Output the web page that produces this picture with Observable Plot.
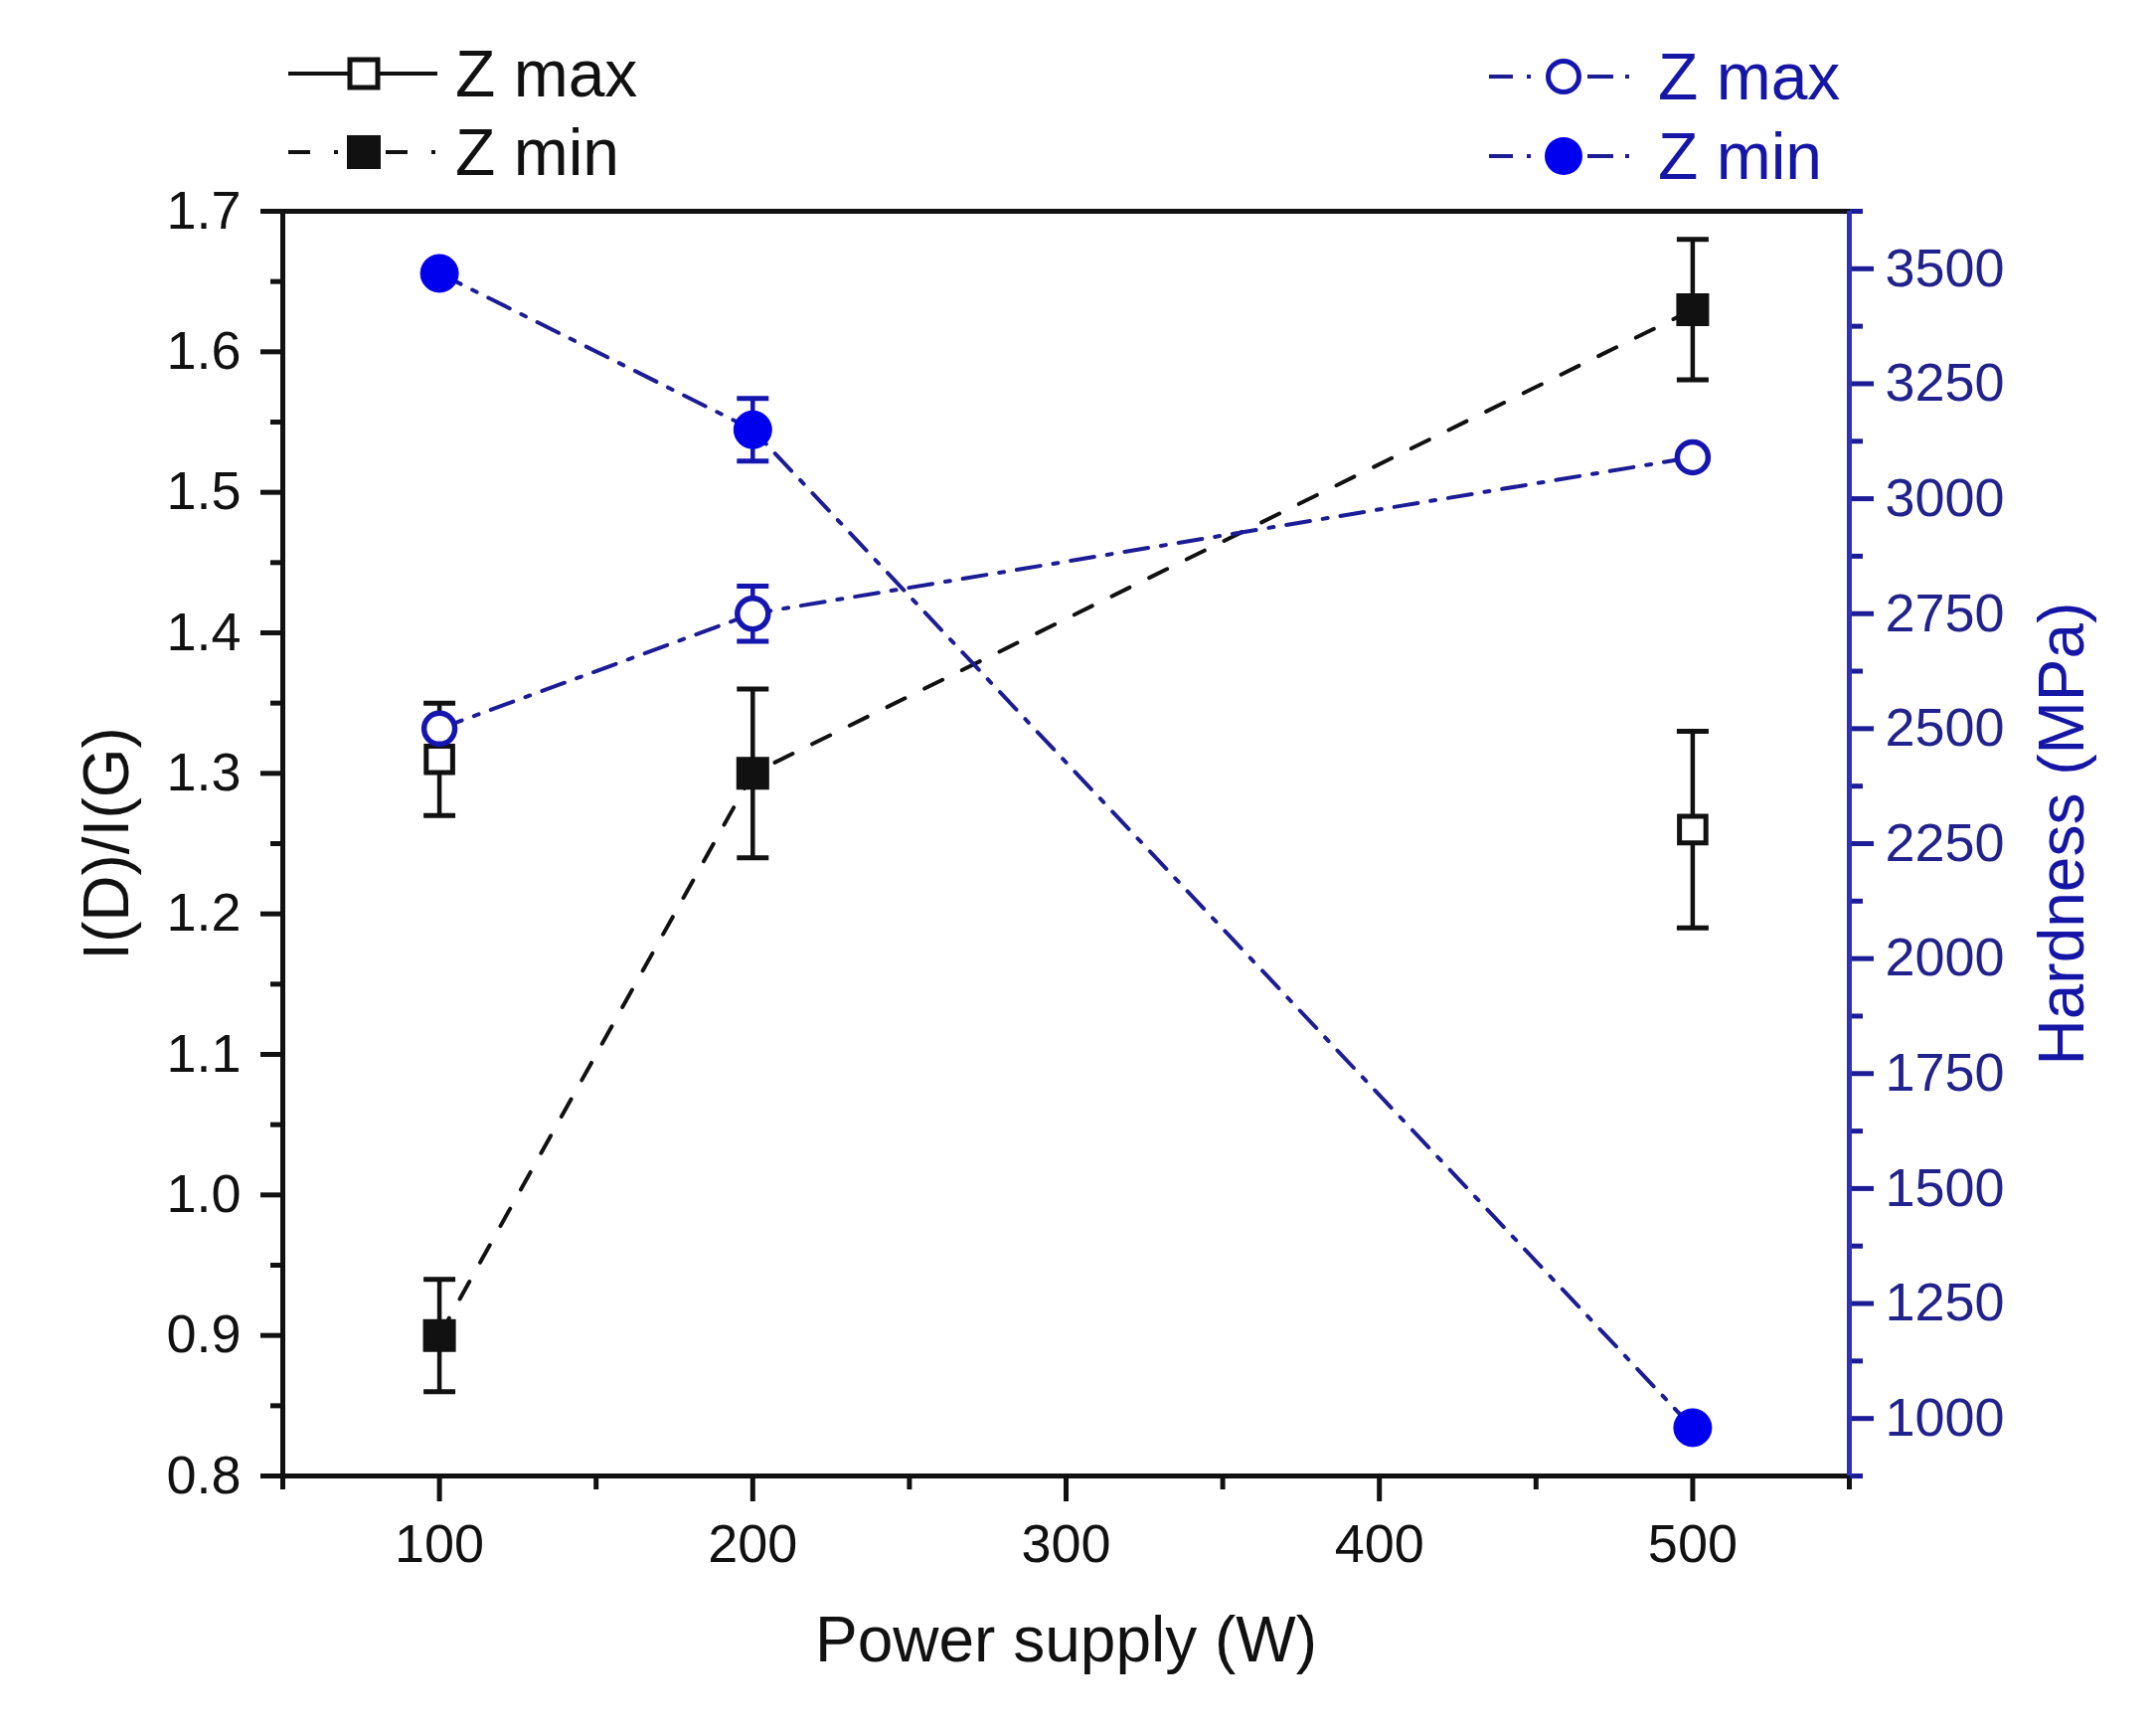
<!DOCTYPE html>
<html><head><meta charset="utf-8">
<script src="https://cdn.jsdelivr.net/npm/d3@7"></script>
<script src="https://cdn.jsdelivr.net/npm/@observablehq/plot@0.6"></script>
<style>
html,body{margin:0;padding:0;background:#fff;overflow:hidden;}
#wrap{position:relative;width:2169px;height:1743px;background:#fff;font-family:"Liberation Sans",Arial,sans-serif;}
#wrap > svg, #wrap > figure{position:absolute;left:0;top:0;margin:0;}
</style></head>
<body><div id="wrap"></div>
<script>
// ---- data ----
const power = [100, 200, 500];
const zmaxPower = [100, 500];
const zmaxRatio = [1.31, 1.26];
const zmaxRatioErr = [0.04, 0.07];
const zminRatio = [0.90, 1.30, 1.63];
const zminRatioErr = [0.04, 0.06, 0.05];
const hardZmax = [2500, 2750, 3090];
const hardZmaxErr = [0, 60, 0];
const hardZmin = [3490, 3150, 980];
const hardZminErr = [0, 68, 0];
// ---- ticks ----
const xTicks = [100, 200, 300, 400, 500];
const xMinor = [50, 150, 250, 350, 450, 550];
const yTicks = [0.8, 0.9, 1.0, 1.1, 1.2, 1.3, 1.4, 1.5, 1.6, 1.7];
const yMinor = [0.85, 0.95, 1.05, 1.15, 1.25, 1.35, 1.45, 1.55, 1.65];
const hTicks = [1000, 1250, 1500, 1750, 2000, 2250, 2500, 2750, 3000, 3250, 3500];
const hMinor = [875, 1125, 1375, 1625, 1875, 2125, 2375, 2625, 2875, 3125, 3375, 3625];
const xDomain = [50, 550];
const yDomain = [0.8, 1.7];
const hDomain = [875, 3625];

const zmaxRows = zmaxPower.map((p, i) => ({p, v: zmaxRatio[i], e: zmaxRatioErr[i]}));
const zminRows = power.map((p, i) => ({p, v: zminRatio[i], e: zminRatioErr[i]}));
const hmaxRows = power.map((p, i) => ({p, v: hardZmax[i], e: hardZmaxErr[i]}));
const hminRows = power.map((p, i) => ({p, v: hardZmin[i], e: hardZminErr[i]}));

const FONT = "Liberation Sans, Arial, sans-serif";
const BLACK = "#111";
const NAVY = "#1c1c96";
const BLUE_TXT = "#1616a6";
const BLUE_AX = "#3030b8";
const BLUE_FILL = "#0000ee";
const BLUE_OPEN = "#1515b0";
const DASHDOT = "24,13,5,13";

const cap = {draw(ctx, size) { const h = Math.sqrt(size / Math.PI); ctx.moveTo(-h, 0); ctx.lineTo(h, 0); }};

const common = {
  width: 2169, height: 1743,
  marginTop: 212, marginBottom: 259, marginLeft: 284, marginRight: 309,
  style: {fontFamily: FONT, background: "transparent", overflow: "visible"}
};

const wrap = document.getElementById("wrap");

// ---- legend ----
const leg = d3.create("svg").attr("width", 2169).attr("height", 200)
  .style("position", "absolute").style("left", 0).style("top", 0);
function seg(g, x1, x2, y, color, dash) {
  const l = g.append("line").attr("x1", x1).attr("x2", x2).attr("y1", y).attr("y2", y)
    .attr("stroke", color).attr("stroke-width", 4);
  if (dash) l.attr("stroke-dasharray", dash);
}
// left legend
seg(leg, 290, 440, 74, BLACK);
leg.append("rect").attr("x", 352).attr("y", 60).attr("width", 28).attr("height", 28)
  .attr("fill", "#fff").attr("stroke", BLACK).attr("stroke-width", 5);
leg.append("text").attr("x", 458).attr("y", 74).attr("dy", "0.35em").attr("font-size", 66)
  .attr("font-family", FONT).attr("fill", BLACK).text("Z max");
seg(leg, 290, 348, 153, BLACK, "22,24,4,100");
seg(leg, 388, 442, 153, BLACK, "22,24,4,100");
leg.append("rect").attr("x", 349).attr("y", 136).attr("width", 34).attr("height", 34)
  .attr("fill", BLACK);
leg.append("text").attr("x", 458).attr("y", 153).attr("dy", "0.35em").attr("font-size", 66)
  .attr("font-family", FONT).attr("fill", BLACK).text("Z min");
// right legend
seg(leg, 1498, 1556, 77, NAVY, "24,14,4,100");
seg(leg, 1597, 1642, 77, NAVY, "26,12,4,100");
leg.append("circle").attr("cx", 1573).attr("cy", 77).attr("r", 15.5)
  .attr("fill", "#fff").attr("stroke", BLUE_OPEN).attr("stroke-width", 5);
leg.append("text").attr("x", 1668).attr("y", 77).attr("dy", "0.35em").attr("font-size", 66)
  .attr("font-family", FONT).attr("fill", BLUE_TXT).text("Z max");
seg(leg, 1498, 1556, 157, NAVY, "24,14,4,100");
seg(leg, 1597, 1642, 157, NAVY, "26,12,4,100");
leg.append("circle").attr("cx", 1573).attr("cy", 157).attr("r", 19).attr("fill", BLUE_FILL);
leg.append("text").attr("x", 1668).attr("y", 157).attr("dy", "0.35em").attr("font-size", 66)
  .attr("font-family", FONT).attr("fill", BLUE_TXT).text("Z min");
wrap.appendChild(leg.node());

// ---- left (I(D)/I(G)) plot ----
const p1 = Plot.plot({
  ...common,
  x: {domain: xDomain, axis: null},
  y: {domain: yDomain, axis: null},
  marks: [
    Plot.axisX({ticks: xTicks, tickSize: 26, tickPadding: 22, fontSize: 54, strokeWidth: 5,
      color: BLACK, label: null, tickFormat: d => String(d)}),
    Plot.axisX({ticks: xMinor, tickSize: 14, strokeWidth: 5, color: BLACK, label: null, tickFormat: () => ""}),
    Plot.axisY({ticks: yTicks, tickSize: 22, tickPadding: 20, fontSize: 54, strokeWidth: 5,
      color: BLACK, label: null, tickFormat: d => d.toFixed(1)}),
    Plot.axisY({ticks: yMinor, tickSize: 12, strokeWidth: 5, color: BLACK, label: null, tickFormat: () => ""}),
    Plot.frame({stroke: BLACK, strokeWidth: 5}),
    Plot.text(["I(D)/I(G)"], {text: d => d, frameAnchor: "left", dx: -176, rotate: -90,
      textAnchor: "middle", lineAnchor: "middle", fontSize: 64, fill: BLACK}),
    Plot.text(["Power supply (W)"], {text: d => d, frameAnchor: "bottom", dy: 166,
      textAnchor: "middle", lineAnchor: "middle", fontSize: 64, fill: BLACK}),
    Plot.line(zminRows, {x: "p", y: "v", stroke: BLACK, strokeWidth: 4, strokeDasharray: "20,22"}),
    Plot.ruleX(zmaxRows, {x: "p", y1: d => d.v - d.e, y2: d => d.v + d.e, stroke: BLACK, strokeWidth: 4.5}),
    Plot.dot(zmaxRows, {x: "p", y: d => d.v - d.e, symbol: cap, r: 16, stroke: BLACK, strokeWidth: 5}),
    Plot.dot(zmaxRows, {x: "p", y: d => d.v + d.e, symbol: cap, r: 16, stroke: BLACK, strokeWidth: 5}),
    Plot.ruleX(zminRows, {x: "p", y1: d => d.v - d.e, y2: d => d.v + d.e, stroke: BLACK, strokeWidth: 4.5}),
    Plot.dot(zminRows, {x: "p", y: d => d.v - d.e, symbol: cap, r: 16, stroke: BLACK, strokeWidth: 5}),
    Plot.dot(zminRows, {x: "p", y: d => d.v + d.e, symbol: cap, r: 16, stroke: BLACK, strokeWidth: 5}),
    Plot.dot(zmaxRows, {x: "p", y: "v", symbol: "square", r: 15, fill: "#fff", stroke: BLACK, strokeWidth: 5}),
    Plot.dot(zminRows, {x: "p", y: "v", symbol: "square", r: 17.5, fill: BLACK, stroke: BLACK, strokeWidth: 2})
  ]
});
wrap.appendChild(p1);

// ---- right (Hardness) plot ----
const p2 = Plot.plot({
  ...common,
  x: {domain: xDomain, axis: null},
  y: {domain: hDomain, axis: null},
  marks: [
    Plot.axisY({anchor: "right", ticks: hTicks, tickSize: 24, tickPadding: 12, fontSize: 54, strokeWidth: 5,
      stroke: NAVY, fill: "#22228c", label: null, tickFormat: d => String(d)}),
    Plot.axisY({anchor: "right", ticks: hMinor, tickSize: 13, strokeWidth: 5, stroke: NAVY, label: null, tickFormat: () => ""}),
    Plot.ruleX([550], {stroke: BLUE_AX, strokeWidth: 5}),
    Plot.text(["Hardness (MPa)"], {text: d => d, frameAnchor: "right", dx: 215, dy: -10, rotate: -90,
      textAnchor: "middle", lineAnchor: "middle", fontSize: 64, fill: BLUE_TXT}),
    Plot.line(hmaxRows, {x: "p", y: "v", stroke: NAVY, strokeWidth: 4, strokeDasharray: DASHDOT}),
    Plot.line(hminRows, {x: "p", y: "v", stroke: NAVY, strokeWidth: 4, strokeDasharray: DASHDOT}),
    Plot.ruleX(hmaxRows, {x: "p", y1: d => d.v - d.e, y2: d => d.v + d.e, stroke: BLUE_OPEN, strokeWidth: 4.5}),
    Plot.dot(hmaxRows, {x: "p", y: d => d.v - d.e, symbol: cap, r: 16, stroke: BLUE_OPEN, strokeWidth: 5}),
    Plot.dot(hmaxRows, {x: "p", y: d => d.v + d.e, symbol: cap, r: 16, stroke: BLUE_OPEN, strokeWidth: 5}),
    Plot.ruleX(hminRows, {x: "p", y1: d => d.v - d.e, y2: d => d.v + d.e, stroke: BLUE_OPEN, strokeWidth: 4.5}),
    Plot.dot(hminRows, {x: "p", y: d => d.v - d.e, symbol: cap, r: 16, stroke: BLUE_OPEN, strokeWidth: 5}),
    Plot.dot(hminRows, {x: "p", y: d => d.v + d.e, symbol: cap, r: 16, stroke: BLUE_OPEN, strokeWidth: 5}),
    Plot.dot(hmaxRows, {x: "p", y: "v", r: 15.5, fill: "#fff", stroke: BLUE_OPEN, strokeWidth: 5.5}),
    Plot.dot(hminRows, {x: "p", y: "v", r: 19, fill: BLUE_FILL, stroke: BLUE_FILL, strokeWidth: 1})
  ]
});
wrap.appendChild(p2);
</script>
</body></html>
